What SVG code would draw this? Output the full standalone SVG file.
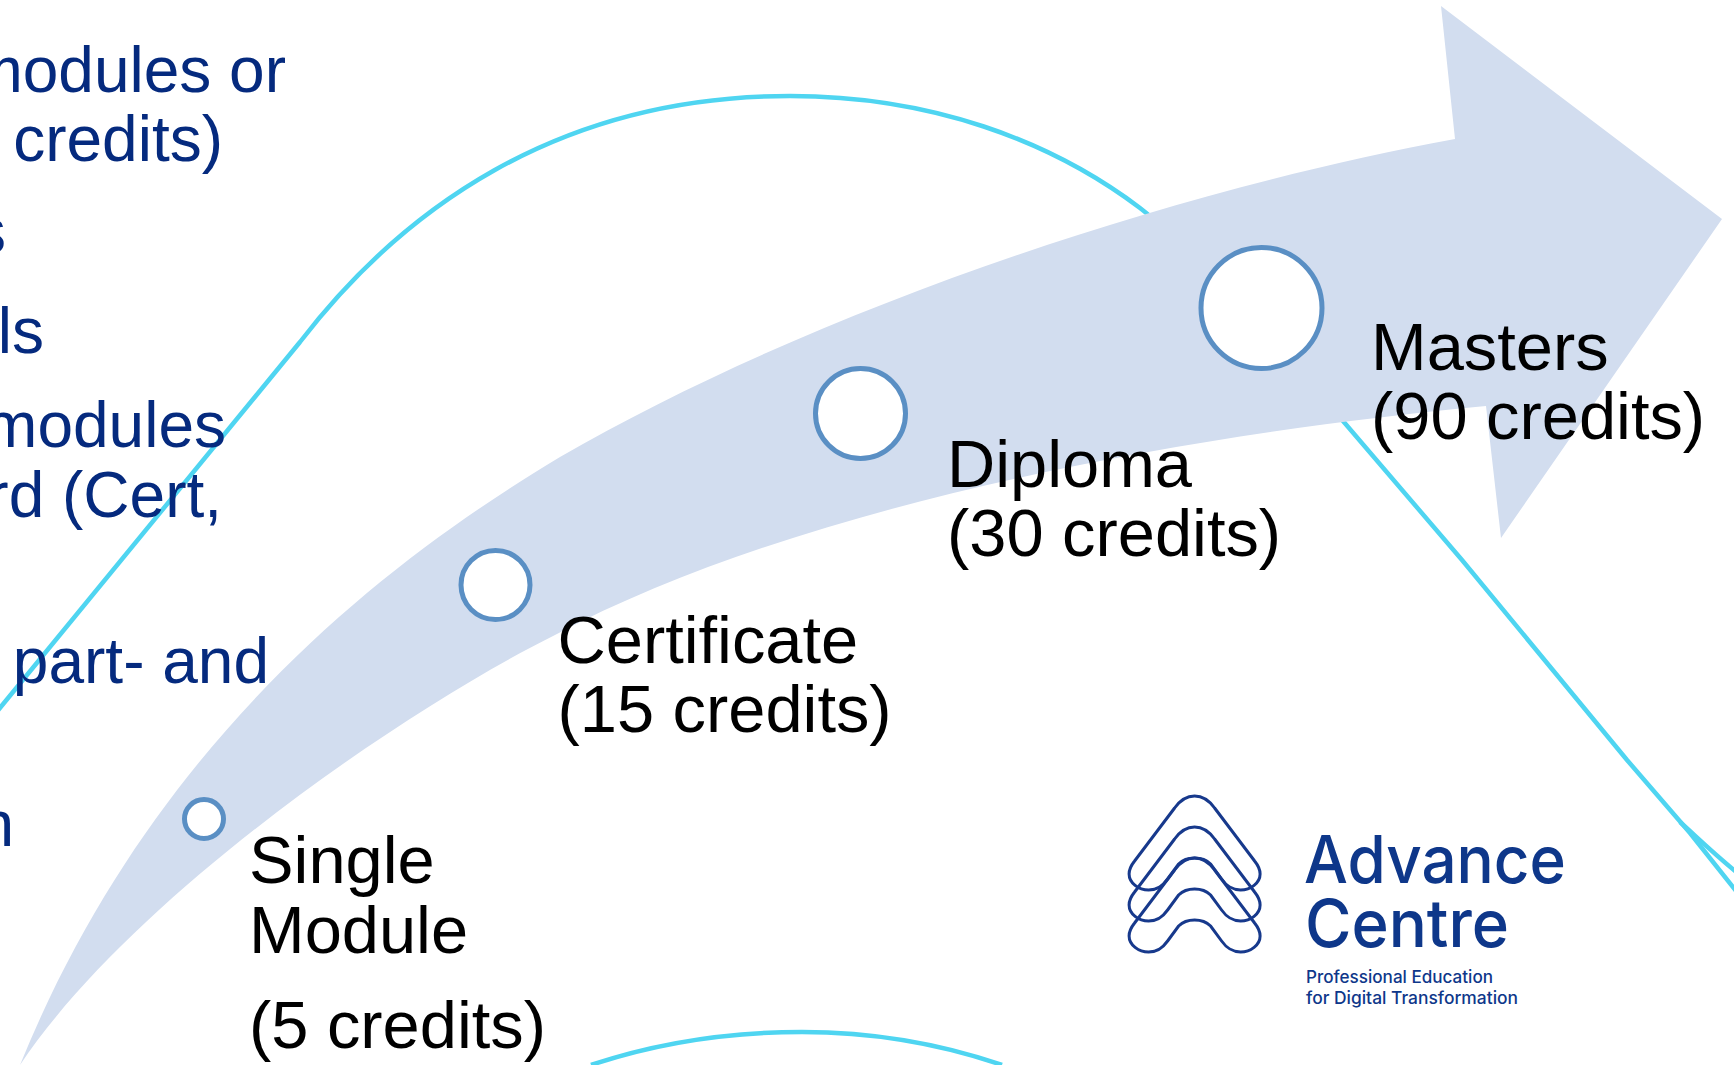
<svg xmlns="http://www.w3.org/2000/svg" xmlns:xlink="http://www.w3.org/1999/xlink" width="1734" height="1065" viewBox="0 0 1734 1065">
<style>
text{font-family:"Liberation Sans",Arial,sans-serif}
.curve{fill:none;stroke:#4FD5F1;stroke-width:4.500}
.blue{font-size:64px;fill:#052A7E;text-anchor:end}
.label{font-size:66.800px;fill:#000}
.dot{fill:#fff;stroke:#5A8FC4;stroke-width:5}
text.logo{fill:#0E378A;font-weight:500;font-family:Inter,"Liberation Sans",sans-serif}
.mark{fill:none;stroke:#17398C;stroke-width:3}
</style>
<defs>
<path id="boom" d="M0,0 C9,0 15,5 20,12 L60,65 C64,70 65.500,74 65.500,78 C65.500,87 56,94 46,94 C37,94 32,90 27,83 L16,68 C12,64 7,62 0,62 C-7,62 -12,64 -16,68 L-27,83 C-32,90 -37,94 -46,94 C-56,94 -65.500,87 -65.500,78 C-65.500,74 -64,70 -60,65 L-20,12 C-15,5 -9,0 0,0 Z"/>
</defs>
<rect width="1734" height="1065" fill="#fff"/>
<g id="connectors">
<path class="curve" d="M-5,714 L300,342 C400,212 555,96 790,96 C930,96 1050,140 1140,208 C1200,255 1290,360 1343,421 L1462,560 L1627,760 L1690,833 L1740,896"/>
<path class="curve" d="M1680,822 C1700,840 1715,855 1740,875"/>
<path class="curve" d="M591,1065 C660,1042 730,1032 802,1032 C870,1032 935,1042 1002,1065"/>
</g>
<g id="left-text">
<text class="blue" x="286" y="92">modules or</text>
<text class="blue" x="223" y="161">credits)</text>
<text class="blue" x="6" y="253">s</text>
<text class="blue" x="44" y="353">ls</text>
<text class="blue" x="226" y="447">modules</text>
<text class="blue" x="222" y="517">rd (Cert,</text>
<text class="blue" x="269" y="683">part- and</text>
<text class="blue" x="14" y="846">n</text>
</g>
<g id="arrow">
<path fill="#D2DDEF" d="M20,1065 C150,745 380,565 560,457 C800,318 1150,195 1455,139 L1441,6 L1722,219 L1501,538 L1486,406 C1180,435 800,505 555,635 C400,712 130,900 20,1065 Z"/>
</g>
<g id="node-single">
<circle class="dot" cx="204" cy="819" r="19.500"/>
<text class="label" x="249" y="883">Single</text>
<text class="label" x="249" y="953">Module</text>
<text class="label" x="249" y="1048">(5 credits)</text>
</g>
<g id="node-certificate">
<circle class="dot" cx="495.500" cy="585" r="34.500"/>
<text class="label" x="557.500" y="663">Certificate</text>
<text class="label" x="557.500" y="732">(15 credits)</text>
</g>
<g id="node-diploma">
<circle class="dot" cx="860.500" cy="413.500" r="45"/>
<text class="label" x="947" y="487">Diploma</text>
<text class="label" x="947" y="556">(30 credits)</text>
</g>
<g id="node-masters">
<circle class="dot" cx="1261.500" cy="308" r="60.500"/>
<text class="label" x="1371" y="370">Masters</text>
<text class="label" x="1371" y="439">(90 credits)</text>
</g>
<g id="logo">
<use class="mark" xlink:href="#boom" href="#boom" x="1194.600" y="796"/>
<use class="mark" xlink:href="#boom" href="#boom" x="1194.600" y="827"/>
<use class="mark" xlink:href="#boom" href="#boom" x="1194.600" y="858"/>
<text class="logo" x="1304" y="883" font-size="66" textLength="262" lengthAdjust="spacingAndGlyphs">Advance</text>
<text class="logo" x="1305" y="947" font-size="66" textLength="204" lengthAdjust="spacingAndGlyphs">Centre</text>
<text class="logo" x="1306" y="983" font-size="17" textLength="187" lengthAdjust="spacingAndGlyphs">Professional Education</text>
<text class="logo" x="1306" y="1004" font-size="17" textLength="212" lengthAdjust="spacingAndGlyphs">for Digital Transformation</text>
</g>
</svg>
